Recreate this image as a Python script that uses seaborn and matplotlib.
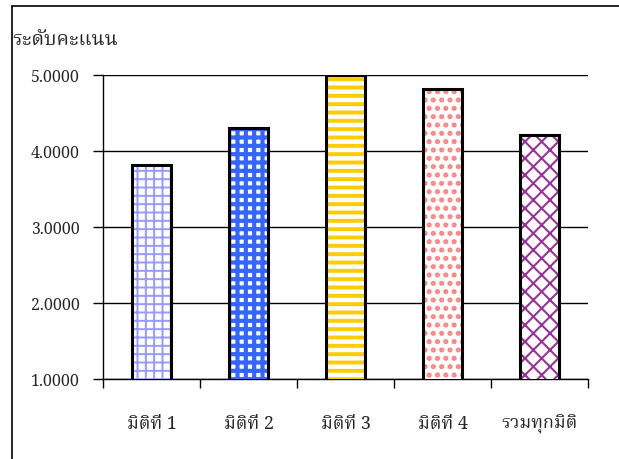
import matplotlib
matplotlib.use("Agg")
import numpy as np
import pandas as pd
import matplotlib.pyplot as plt
from matplotlib.lines import Line2D
from matplotlib.ticker import FormatStrFormatter, FixedLocator
import seaborn as sns

# data
categories = ['มิติที่ 1', 'มิติที่ 2', 'มิติที่ 3', 'มิติที่ 4', 'รวมทุกมิติ']
scores = [3.82, 4.30, 5.00, 4.82, 4.21]
y_label = 'ระดับคะแนน'

hatch_colors = ['#9999ff', '#3366ff', '#ffcc00', '#ff8080', '#993399']
hatches = ['++', '++', '--', '..', 'xx']
hatch_widths = [1.4, 3.0, 2.8, 2.4, 1.5]

THAI = ['Noto Serif Thai', 'Liberation Serif', 'DejaVu Sans']


def main():
    sns.set_style('white')
    plt.rcParams['font.family'] = THAI

    data = pd.DataFrame({'category': categories, 'score': scores})

    fig = plt.figure(figsize=(6.19, 4.59), dpi=100)
    ax = fig.add_axes([103 / 619, 1 - 379 / 459, (588 - 103) / 619, (379 - 75) / 459])

    # hatched fill, hatch colour comes from the edge colour
    sns.barplot(data=data, x='category', y='score', ax=ax, width=0.41,
                color='white', linewidth=0, saturation=1, zorder=3)
    for patch, h, c, lw in zip(ax.patches, hatches, hatch_colors, hatch_widths):
        patch.set_facecolor('white')
        patch.set_edgecolor(c)
        patch.set_hatch(h)
        if hasattr(patch, 'set_hatch_linewidth'):
            patch.set_hatch_linewidth(lw)
        patch.set_linewidth(0)

    # black outline on top
    sns.barplot(data=data, x='category', y='score', ax=ax, width=0.41,
                fill=False, edgecolor='black', linewidth=2.2, zorder=4)

    ax.set_ylim(1, 5)
    ax.set_xlim(-0.5, len(categories) - 0.5)
    ax.set_yticks([1, 2, 3, 4, 5])
    ax.yaxis.set_major_formatter(FormatStrFormatter('%.4f'))
    ax.grid(axis='y', color='black', linewidth=1, zorder=1)
    ax.set_axisbelow(True)

    ax.xaxis.set_minor_locator(FixedLocator(np.arange(-0.5, len(categories), 1.0)))
    ax.tick_params(axis='x', which='major', length=0, pad=26, labelsize=13)
    ax.tick_params(axis='x', which='minor', length=6.5, width=1, color='black',
                   direction='out', bottom=True)
    ax.tick_params(axis='y', which='major', length=7, width=1, color='black',
                   direction='out', left=True, pad=10, labelsize=11.5)

    ax.set_xlabel('')
    ax.set_ylabel('')
    for side in ['top', 'right']:
        ax.spines[side].set_visible(False)
    for side in ['left', 'bottom']:
        ax.spines[side].set_color('black')
        ax.spines[side].set_linewidth(1)

    fig.text(12 / 619, 1 - 40 / 459, y_label, fontsize=14.3, va='center', ha='left',
             family=THAI)

    # chart area border (left and top edges visible in the reference)
    bx, by = 11.5 / 619, 1 - 5.5 / 459
    fig.add_artist(Line2D([bx, bx], [0, by], color='black', linewidth=1.2))
    fig.add_artist(Line2D([bx, 1], [by, by], color='black', linewidth=1.2))

    fig.savefig('out.png', dpi=100)


if __name__ == '__main__':
    main()
